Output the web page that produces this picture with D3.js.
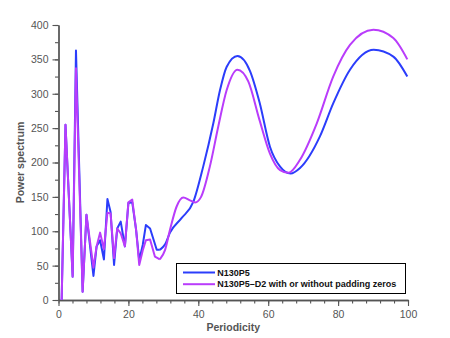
<!DOCTYPE html>
<html>
<head>
<meta charset="utf-8">
<script src="https://cdn.jsdelivr.net/npm/d3@7"></script>
<style>
  body { margin: 0; background: #fff; }
  svg { display: block; font-family: "Liberation Sans", Arial, sans-serif; }
</style>
</head>
<body>
<div id="vis"></div>
<script>
// periodicity / power values
const blueX = [0.9, 2.0, 4.05, 5.0, 6.9, 8.0, 10.0, 10.9, 11.9, 13.0, 14.0, 14.9, 15.9, 16.8, 17.8, 19.0, 20.0, 21.1, 22.2, 23.1, 24.1, 25.0, 26.2, 28.1, 29.0,
  30.5, 31.9, 35.2, 38.6, 41.4, 44.3, 46.2, 48.1, 51.2, 54.8, 57.5, 60.5, 63.4, 66.4, 69.1, 74.8, 78.6, 83.4, 90.2, 95.8, 99.8];
const blueY = [0, 255, 34, 363, 12, 124, 35, 78, 87, 59, 147, 128, 51, 104, 114, 78, 141, 142, 102, 58, 80, 109, 104, 73, 73,
  81, 98, 119, 143, 194, 257, 305, 339, 355, 333, 288, 223, 194, 184, 192, 238, 286, 335, 364, 354, 325];

const purpleX = [0.9, 2.0, 4.05, 5.0, 6.9, 8.0, 10.0, 10.9, 11.9, 13.0, 14.0, 14.9, 15.9, 16.8, 17.8, 19.0, 20.0, 21.1, 22.2, 23.1, 24.1, 25.0, 26.2, 27.6, 29.0,
  30.5, 31.9, 33.8, 35.7, 37.6, 39.1, 40.8, 43.3, 45.7, 48.1, 51.2, 54.3, 57.5, 60.5, 63.4, 65.8, 69.1, 73.9, 78.6, 83.4, 90.1, 95.8, 99.8];
const purpleY = [0, 255, 34, 337, 12, 124, 47, 78, 98, 74, 127, 126, 61, 104, 97, 78, 142, 146, 102, 51, 72, 87, 88, 63, 59,
  73, 102, 136, 149, 145, 142, 150, 194, 252, 305, 335, 318, 262, 213, 189, 185, 204, 257, 325, 371, 393, 381, 350];

const seriesNames = ["N130P5", "N130P5\u2013D2 with or without padding zeros"];
const seriesColors = ["#2b3dfb", "#b93cfb"];
const xTicks = [0, 20, 40, 60, 80, 100];
const yTicks = [0, 50, 100, 150, 200, 250, 300, 350, 400];
const smoothFrom = 29; // jagged part is drawn straight, the rest smooth

const width = 450, height = 338;
const margin = { top: 25, right: 42, bottom: 38, left: 58.5 };

const svg = d3.select("#vis").append("svg")
  .attr("width", width)
  .attr("height", height);

const x = d3.scaleLinear().domain([0, 100]).range([margin.left, width - margin.right]);
const y = d3.scaleLinear().domain([0, 400]).range([height - margin.bottom, margin.top]);

//////////////// axes ////////////////
const axisColor = "#555";

function styleAxis(g) {
  g.select(".domain").attr("stroke", axisColor).attr("stroke-width", 1.3);
  g.selectAll(".tick line").attr("stroke", axisColor).attr("stroke-width", 1.1);
  g.selectAll(".tick text").attr("fill", "#555").attr("font-size", 10.5)
    .attr("font-family", "'Liberation Sans', Arial, sans-serif");
}

// minor ticks
svg.append("g")
  .attr("transform", `translate(0,${y(0)})`)
  .call(d3.axisBottom(x).tickValues(d3.range(0, 101, 4)).tickSize(3.5).tickSizeOuter(0).tickFormat(""))
  .call(styleAxis);
svg.append("g")
  .attr("transform", `translate(${x(0)},0)`)
  .call(d3.axisLeft(y).tickValues(d3.range(0, 401, 25)).tickSize(3.5).tickSizeOuter(0).tickFormat(""))
  .call(styleAxis);

// major ticks
svg.append("g")
  .attr("transform", `translate(0,${y(0)})`)
  .call(d3.axisBottom(x).tickValues(xTicks).tickSize(6).tickSizeOuter(0).tickPadding(5))
  .call(styleAxis);
svg.append("g")
  .attr("transform", `translate(${x(0)},0)`)
  .call(d3.axisLeft(y).tickValues(yTicks).tickSize(6).tickSizeOuter(0).tickPadding(4))
  .call(styleAxis);

svg.append("text")
  .attr("x", (x(0) + x(100)) / 2)
  .attr("y", 331)
  .attr("text-anchor", "middle")
  .attr("font-size", 10.5)
  .attr("font-weight", "bold")
  .attr("fill", "#555")
  .text("Periodicity");

svg.append("text")
  .attr("transform", `translate(23.5,${(y(0) + y(400)) / 2}) rotate(-90)`)
  .attr("text-anchor", "middle")
  .attr("font-size", 10.5)
  .attr("font-weight", "bold")
  .attr("fill", "#555")
  .text("Power spectrum");

//////////////// lines ////////////////
const series = [
  d3.zip(blueX, blueY).map(([px, py]) => ({ x: px, y: py })),
  d3.zip(purpleX, purpleY).map(([px, py]) => ({ x: px, y: py }))
];

const jagged = d3.line().x(d => x(d.x)).y(d => y(d.y)).curve(d3.curveLinear);
const smooth = d3.line().x(d => x(d.x)).y(d => y(d.y)).curve(d3.curveMonotoneX);

series.forEach((pts, i) => {
  const g = svg.append("g")
    .attr("fill", "none")
    .attr("stroke", seriesColors[i])
    .attr("stroke-width", 2)
    .attr("stroke-linejoin", "round");
  g.append("path").attr("d", jagged(pts.filter(d => d.x <= smoothFrom)));
  g.append("path").attr("d", smooth(pts.filter(d => d.x >= smoothFrom)));
});

//////////////// legend ////////////////
const legend = svg.append("g").attr("transform", "translate(176.5,263.5)");

legend.append("rect")
  .attr("width", 229)
  .attr("height", 30)
  .attr("fill", "#fff")
  .attr("stroke", "#000")
  .attr("stroke-width", 1);

seriesNames.forEach((name, i) => {
  const row = legend.append("g").attr("transform", `translate(0,${9 + i * 11.7})`);
  row.append("line")
    .attr("x1", 6.5).attr("x2", 38.5)
    .attr("stroke", seriesColors[i])
    .attr("stroke-width", 2);
  row.append("text")
    .attr("x", 40.8)
    .attr("y", 3)
    .attr("font-size", 9)
    .attr("font-weight", "bold")
    .attr("fill", "#111")
    .text(name);
});
</script>
</body>
</html>
